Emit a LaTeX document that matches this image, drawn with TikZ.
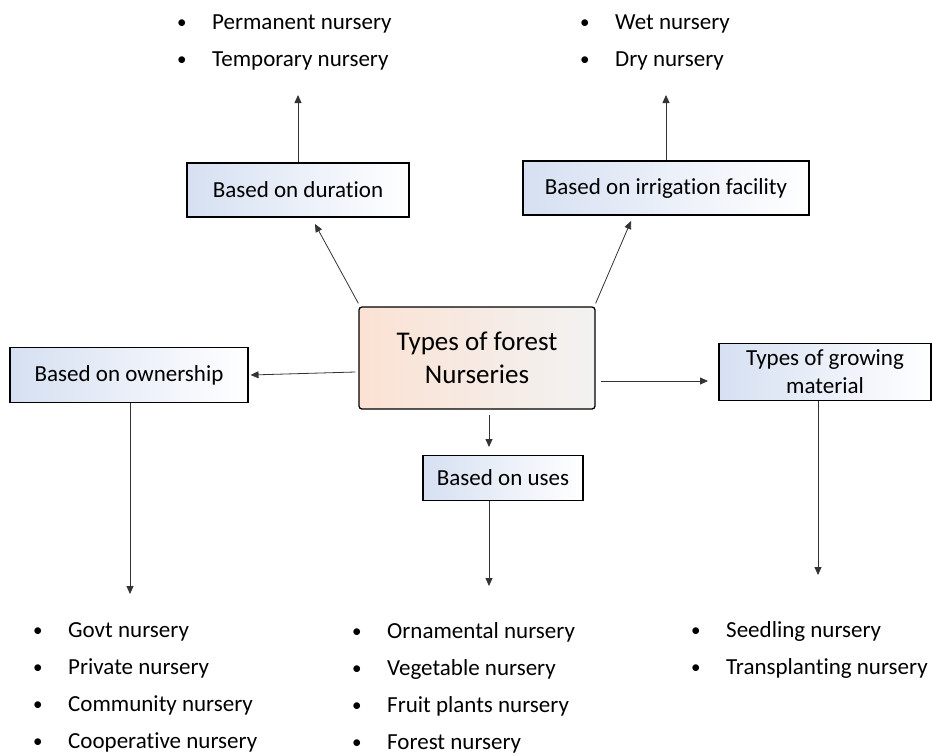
\documentclass[tikz,border=0pt]{standalone}
\usepackage{fontspec}
\setmainfont{Carlito}[Ligatures=NoCommon]
\usetikzlibrary{arrows.meta}
\definecolor{boxblue}{HTML}{D6E0F2}
\definecolor{hubpeach}{HTML}{FBE2D3}
\definecolor{hubgray}{HTML}{F2F2F2}
\newcommand{\itm}[1]{\makebox[35pt][l]{\raisebox{1pt}{\fontsize{19}{19}\selectfont\textbullet}}#1}

\begin{document}
\begin{tikzpicture}[x=1pt,y=-1pt,>={Triangle[length=8pt,width=7pt]},
    box/.style={draw=black,line width=1.1pt,left color=boxblue,right color=white,
        font=\fontsize{23}{28}\selectfont,align=center,inner sep=0pt},
    hubbox/.style={draw=black,line width=1.3pt,rounded corners=3pt,left color=hubpeach,
        right color=hubgray,font=\fontsize{27}{33}\selectfont,align=center,inner sep=0pt},
    link/.style={->,line width=0.8pt,draw=black!80},
    list/.style={anchor=west,inner sep=0pt,align=left,font=\fontsize{23}{37}\selectfont}]
    \useasboundingbox (0,0) rectangle (941,755);

    % Mittelknoten
    \node[hubbox,minimum width=236pt,minimum height=102pt] (hub) at (477,358) {Types of forest\\Nurseries};

    % Kategorien
    \node[box,minimum width=222pt,minimum height=54pt] (dur) at (298,190) {Based on duration};
    \node[box,minimum width=286pt,minimum height=54pt] (irr) at (666,188) {Based on irrigation facility};
    \node[box,minimum width=238pt,minimum height=55pt] (own) at (129,375) {Based on ownership};
    \node[box,minimum width=212pt,minimum height=57pt] (grow) at (825,372) {Types of growing\\material};
    \node[box,minimum width=160pt,minimum height=45pt] (uses) at (503,478) {Based on uses};

    % Listen
    \node[list] (durlist) at (177,42) {\itm{Permanent nursery}\\\itm{Temporary nursery}};
    \node[list] (irrlist) at (580,42) {\itm{Wet nursery}\\\itm{Dry nursery}};
    \node[list] (ownlist) at (33,687) {\itm{Govt nursery}\\\itm{Private nursery}\\\itm{Community nursery}\\\itm{Cooperative nursery}};
    \node[list] (uselist) at (352,688) {\itm{Ornamental nursery}\\\itm{Vegetable nursery}\\\itm{Fruit plants nursery}\\\itm{Forest nursery}};
    \node[list] (growlist) at (691,650) {\itm{Seedling nursery}\\\itm{Transplanting nursery}};

    % Pfeilspitzen
    \coordinate (durtip) at (298,95);
    \coordinate (irrtip) at (666,95);
    \coordinate (durin) at (315,224);
    \coordinate (irrin) at (631,221);
    \coordinate (growin) at (708,381);
    \coordinate (usein) at (489,447);
    \coordinate (owntip) at (130,594);
    \coordinate (usetip) at (489,586);
    \coordinate (growtip) at (818,575);

    % Verbindungen vom Mittelknoten
    \draw[link] ([yshift=3pt]hub.north west) -- (durin);
    \draw[link] ([yshift=3pt]hub.north east) -- (irrin);
    \draw[link] ([xshift=-3pt,yshift=-14pt]hub.west) -- ([xshift=2pt]own.east);
    \draw[link] ([xshift=5pt,yshift=-23pt]hub.east) -- (growin);
    \draw[link] ([yshift=-5pt]hub.south -| usein) -- (usein);

    % Verbindungen zu den Listen
    \draw[link] (dur.north) -- (durtip);
    \draw[link] (irr.north) -- (irrtip);
    \draw[link] (own.south -| owntip) -- (owntip);
    \draw[link] (uses.south -| usetip) -- (usetip);
    \draw[link] (grow.south -| growtip) -- (growtip);
\end{tikzpicture}
\end{document}
